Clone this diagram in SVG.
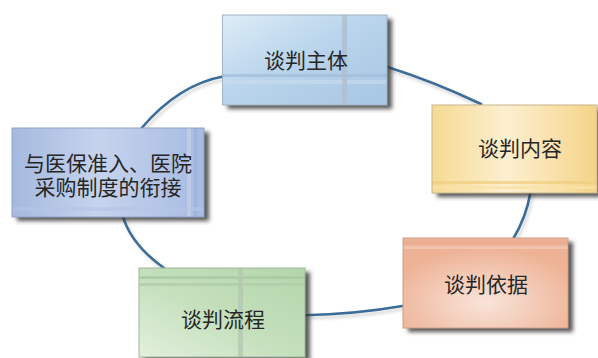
<svg xmlns="http://www.w3.org/2000/svg" width="598" height="358" viewBox="0 0 598 358">
<defs>
<filter id="sh" x="-10%" y="-10%" width="125%" height="130%">
<feDropShadow dx="5" dy="4" stdDeviation="2" flood-color="#333333" flood-opacity="0.8"/>
</filter>
<filter id="lsh" x="-10%" y="-20%" width="120%" height="140%">
<feDropShadow dx="2" dy="3" stdDeviation="1.5" flood-color="#888" flood-opacity="0.35"/>
</filter>
<linearGradient id="gBlue" x1="0" y1="0" x2="1" y2="1">
<stop offset="0" stop-color="#deedf7"/>
<stop offset="0.45" stop-color="#bad5ec"/>
<stop offset="1" stop-color="#a6c6e3"/>
</linearGradient>
<linearGradient id="gYel" x1="0" y1="0" x2="1" y2="0">
<stop offset="0" stop-color="#f6da92"/>
<stop offset="0.45" stop-color="#fcefd0"/>
<stop offset="1" stop-color="#f5d488"/>
</linearGradient>
<radialGradient id="gSal" cx="0.5" cy="0.72" r="0.6">
<stop offset="0" stop-color="#f9e4da"/>
<stop offset="1" stop-color="#eeb396"/>
</radialGradient>
<linearGradient id="gGrn" x1="0" y1="1" x2="1" y2="0">
<stop offset="0" stop-color="#e2f0dc"/>
<stop offset="0.5" stop-color="#c3dfbb"/>
<stop offset="1" stop-color="#b4d6ac"/>
</linearGradient>
<linearGradient id="gPer" x1="0" y1="0" x2="1" y2="0">
<stop offset="0" stop-color="#a5b9df"/>
<stop offset="0.45" stop-color="#c6d3ed"/>
<stop offset="1" stop-color="#a7bbe1"/>
</linearGradient>
</defs>
<style>
.conn path{fill:none;stroke:#3b6d99;stroke-width:2.6;stroke-linecap:round}
.box{filter:url(#sh)}
.t{font-family:"Noto Sans CJK SC","Noto Sans CJK JP",sans-serif;font-size:21px;fill:#262626;text-anchor:middle;dominant-baseline:central}
.edge{fill:none;stroke-width:1}
</style>
<rect width="598" height="358" fill="#ffffff"/>
<g id="connectors" class="conn" filter="url(#lsh)">
<path d="M141.7,128 Q178.3,84.6 224,76.2"/>
<path d="M386,66.5 Q434,81.6 481,104"/>
<path d="M530.5,192 Q526.5,217 512.5,240"/>
<path d="M404,305.8 Q354,314.5 304,315.2"/>
<path d="M164,268 Q130.4,244 122.5,215"/>
</g>
<g id="node-zhuti">
<rect class="box" x="222.5" y="15" width="164.5" height="90" fill="url(#gBlue)"/>
<rect x="222.5" y="74" width="164.5" height="3" fill="#9fbcd8" opacity="0.7"/>
<rect x="222.5" y="80" width="164.5" height="4" fill="#c9dcee" opacity="0.6"/>
<rect x="342" y="15" width="5" height="90" fill="#aebfcf" opacity="0.8"/>
<rect x="222.5" y="15" width="164.5" height="90" class="edge" stroke="#9fb4c8"/>
<text class="t" x="306" y="59">谈判主体</text>
</g>
<g id="node-neirong">
<rect class="box" x="432" y="105" width="165" height="88" fill="url(#gYel)"/>
<rect x="432" y="181" width="165" height="3" fill="#f0cf84" opacity="0.8"/>
<rect x="432" y="186" width="165" height="3" fill="#f7e2a8" opacity="0.8"/>
<rect x="432" y="105" width="165" height="88" class="edge" stroke="#c8b48a"/>
<text class="t" x="520" y="147">谈判内容</text>
</g>
<g id="node-yiju">
<rect class="box" x="403" y="238" width="165" height="90" fill="url(#gSal)"/>
<rect x="403" y="241" width="165" height="3" fill="#e9a98c" opacity="0.8"/>
<rect x="403" y="246" width="165" height="3" fill="#f3c7b2" opacity="0.8"/>
<rect x="403" y="238" width="165" height="90" class="edge" stroke="#c9a08e"/>
<text class="t" x="486" y="283">谈判依据</text>
</g>
<g id="node-liucheng">
<rect class="box" x="139" y="268" width="166" height="89" fill="url(#gGrn)"/>
<rect x="139" y="276" width="166" height="3" fill="#a9c9a2" opacity="0.8"/>
<rect x="139" y="283" width="166" height="3" fill="#b0ccaa" opacity="0.8"/>
<rect x="238" y="268" width="5" height="89" fill="#b4c8b0" opacity="0.8"/>
<rect x="139" y="268" width="166" height="89" class="edge" stroke="#9fb89b"/>
<text class="t" x="223" y="318">谈判流程</text>
</g>
<g id="node-xianjie">
<rect class="box" x="12" y="128" width="192" height="89" fill="url(#gPer)"/>
<rect x="187" y="128" width="4" height="89" fill="#c3cfe9" opacity="0.8"/>
<rect x="194" y="128" width="3" height="89" fill="#9fb2d9" opacity="0.8"/>
<rect x="12" y="207" width="192" height="4" fill="#b6c5e6" opacity="0.6"/>
<rect x="12" y="128" width="192" height="89" class="edge" stroke="#8fa3c6"/>
<text class="t" x="108" y="162"><tspan x="108" y="162">与医保准入、医院</tspan><tspan x="108" y="186">采购制度的衔接</tspan></text>
</g>
</svg>
